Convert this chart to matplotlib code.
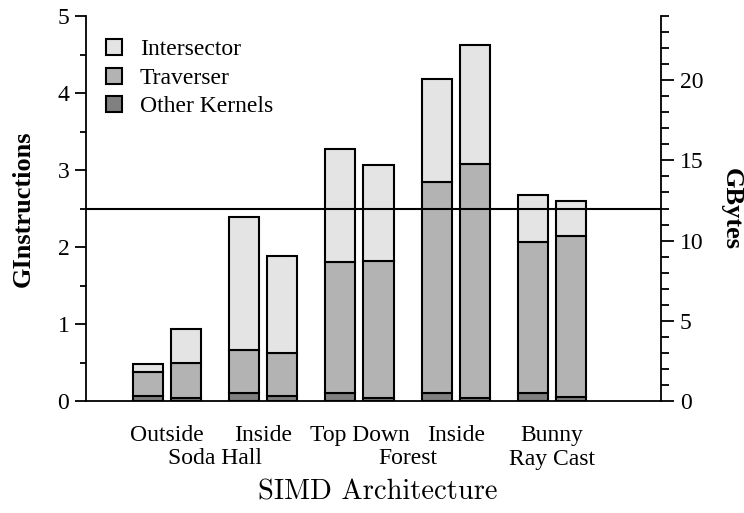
import matplotlib
matplotlib.use("Agg")
import matplotlib.pyplot as plt
import matplotlib.patches as mpatches
from matplotlib.ticker import MultipleLocator
from matplotlib.transforms import blended_transform_factory
import numpy as np

# ---- data (GInstructions) ----
top_labels = ["Outside", "Inside", "Top Down", "Inside", "Bunny"]
scene_labels = ["Soda Hall", "Forest", "Ray Cast"]
scene_pos = [0.5, 2.5, 4.0]
series_names = ["Intersector", "Traverser", "Other Kernels"]
# cumulative tops, two bars per group
other = [0.07, 0.035, 0.11, 0.06, 0.105, 0.045, 0.10, 0.045, 0.11, 0.05]
traverser_top = [0.38, 0.49, 0.66, 0.62, 1.805, 1.82, 2.84, 3.08, 2.07, 2.14]
total = [0.48, 0.93, 2.385, 1.887, 3.27, 3.06, 4.18, 4.62, 2.67, 2.60]
threshold = 2.5

other = np.array(other)
trav = np.array(traverser_top) - other
inter = np.array(total) - np.array(traverser_top)

colors = ["#e4e4e4", "#b3b3b3", "#808080"]

plt.rcParams['font.family'] = ['Liberation Serif', 'DejaVu Serif']

fig = plt.figure(figsize=(7.44, 5.13), dpi=100)
ax = fig.add_axes([86/744, 1-401/513, (661-86)/744, (401-16)/513])

groups = np.arange(len(top_labels))
offset = 19/96
width = 30/96
xs = np.ravel(np.column_stack([groups - offset, groups + offset]))

lw = 1.5
ax.bar(xs, other, width, color=colors[2], edgecolor='black', linewidth=lw, zorder=2)
ax.bar(xs, trav, width, bottom=other, color=colors[1], edgecolor='black', linewidth=lw, zorder=2)
ax.bar(xs, inter, width, bottom=other + trav, color=colors[0], edgecolor='black', linewidth=lw, zorder=2)

ax.axhline(threshold, color='black', linewidth=1.5, zorder=3)

ax.set_xlim(-(167-86)/96, 4 + (661-552)/96)
ax.set_ylim(0, 5)
ax.yaxis.set_major_locator(MultipleLocator(1))
ax.yaxis.set_minor_locator(MultipleLocator(0.5))
ax.tick_params(axis='y', which='major', length=8, width=1.3, labelsize=17, direction='out', pad=4)
ax.tick_params(axis='y', which='minor', length=4.5, width=1.3, direction='out')
ax.set_xticks(groups)
ax.set_xticklabels(top_labels, fontsize=17)
ax.tick_params(axis='x', length=0, pad=17)

ax.spines['top'].set_visible(False)
ax.spines['right'].set_visible(False)
for s in ['left', 'bottom']:
    ax.spines[s].set_linewidth(1.3)

ax.set_ylabel("GInstructions", fontsize=19, fontweight='bold', labelpad=16)

tr = blended_transform_factory(ax.transData, ax.transAxes)
for lab, p in zip(scene_labels, scene_pos):
    ax.text(p, (401-459)/385, lab, transform=tr, ha='center', va='center', fontsize=17)

fig.text(378/744, 1-492/513, "SIMD Architecture", ha='center', va='center',
         fontsize=20.5, family='cmr10')

ax2 = ax.twinx()
ax2.set_position(ax.get_position())
ax2.set_ylim(0, 24)
ax2.yaxis.set_major_locator(MultipleLocator(5))
ax2.yaxis.set_minor_locator(MultipleLocator(1))
ax2.tick_params(axis='y', which='major', length=9.5, width=1.3, labelsize=17, direction='out', pad=4)
ax2.tick_params(axis='y', which='minor', length=5.5, width=1.3, direction='out')
for s in ['top', 'left', 'bottom']:
    ax2.spines[s].set_visible(False)
ax2.spines['right'].set_linewidth(1.3)
ax2.set_ylabel("GBytes", fontsize=19, fontweight='bold', rotation=270, labelpad=28)

handles = [mpatches.Patch(facecolor=c, edgecolor='black', linewidth=1.5, label=n)
           for c, n in zip(colors, series_names)]
ax.legend(handles=handles, loc='upper left', frameon=False, fontsize=17,
          handlelength=0.68, handleheight=0.68, handletextpad=0.76, labelspacing=0.3,
          bbox_to_anchor=(20/575, 0.94), borderaxespad=0, borderpad=0)

fig.savefig("out.png", dpi=100)
